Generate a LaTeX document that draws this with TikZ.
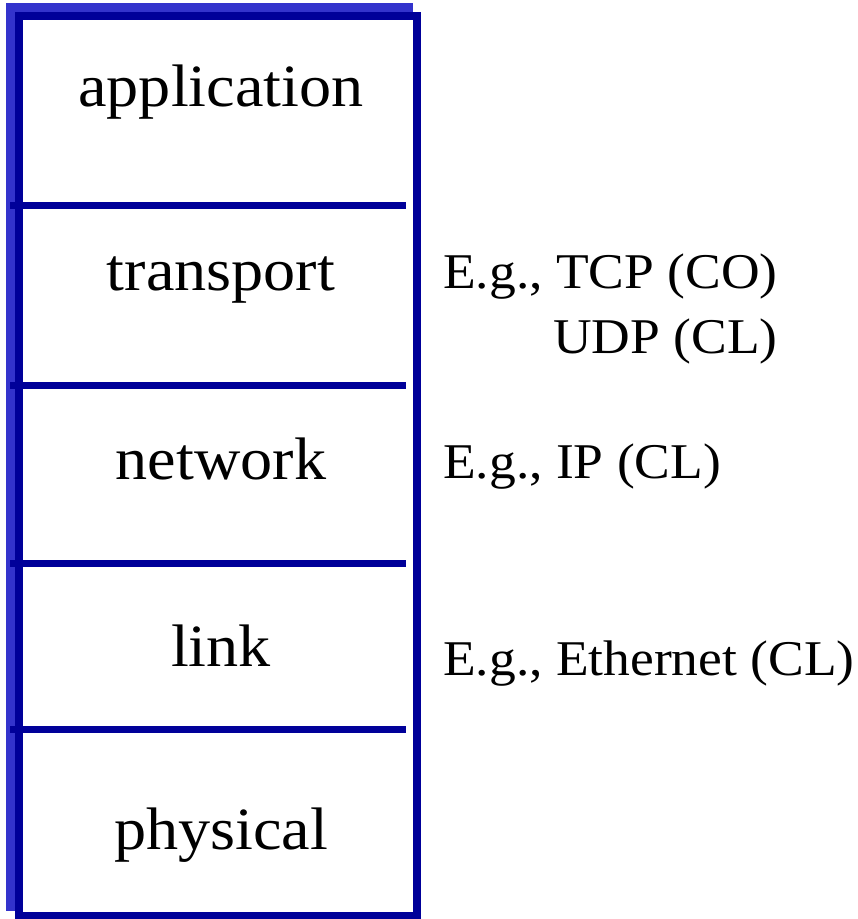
\documentclass[tikz,border=0pt]{standalone}
\usepackage{fontspec}
\setmainfont[FakeStretch=1.07]{Liberation Serif}
\usepackage{xcolor}
\usepackage{tikz}
\usetikzlibrary{positioning}

\definecolor{stackblue}{RGB}{0,0,153}
\definecolor{shadowblue}{RGB}{51,51,204}

\begin{document}
\begin{tikzpicture}[
  x=1pt, y=-1pt,
  layer/.style={anchor=base, inner sep=0pt, font=\fontsize{60}{72}\selectfont},
  note/.style={anchor=base west, inner sep=0pt, font=\fontsize{50}{65}\selectfont},
  frame/.style={draw=stackblue, fill=white, line width=8pt},
  divider/.style={draw=stackblue, line width=7pt}
]
  \useasboundingbox (0,0) rectangle (858,919);

  % protocol stack box with its shadow
  \fill[shadowblue] (6,3) rectangle (413,911);
  \draw[frame] (19,16) rectangle (417,916);
  \draw[divider] (10,205) -- (406,205);
  \draw[divider] (10,385) -- (406,385);
  \draw[divider] (10,563) -- (406,563);
  \draw[divider] (10,729) -- (406,729);

  \node[layer] (app) at (221,106) {application};
  \node[layer] (trans) at (221,290) {transport};
  \node[layer] (net) at (221,479) {network};
  \node[layer] (link) at (221,666) {link};
  \node[layer] (phys) at (221,849) {physical};

  \node[note] (tcp) at (443,288) {E.g., TCP (CO)};
  \node[note, anchor=base east] (udp) at ([yshift=-65pt]tcp.base east) {UDP (CL)};
  \node[note] (ip) at (443,478) {E.g., IP (CL)};
  \node[note] (eth) at (443,675) {E.g., Ethernet (CL)};
\end{tikzpicture}
\end{document}
